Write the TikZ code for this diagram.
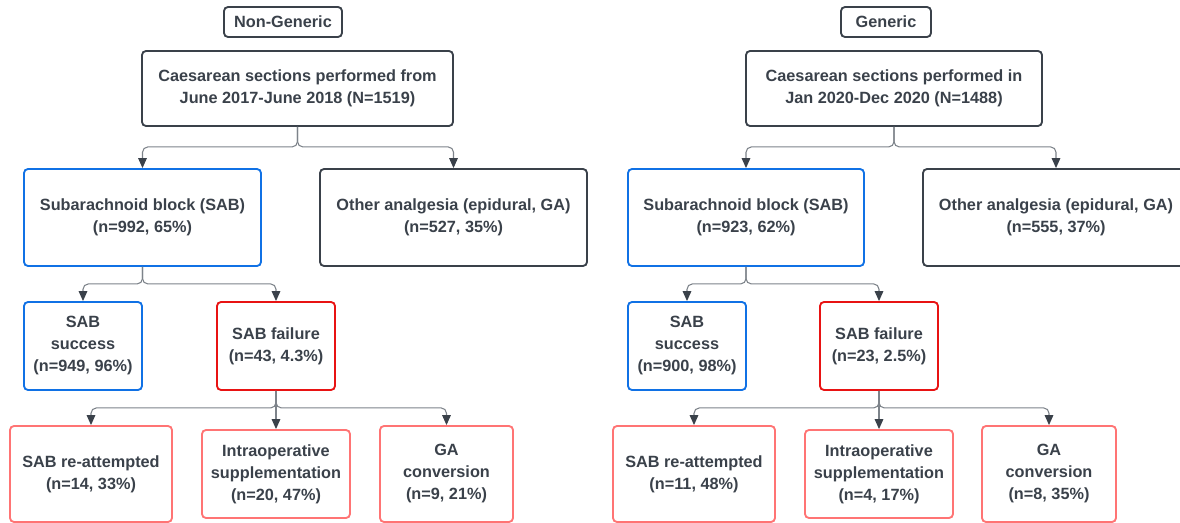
\documentclass[tikz,border=0pt]{standalone}
\usepackage{fontspec}
\setmainfont{Liberation Sans}
\usetikzlibrary{arrows.meta}
\definecolor{dunkel}{HTML}{3A414A}
\definecolor{linie}{HTML}{7D838A}
\definecolor{blau}{HTML}{1071E5}
\definecolor{rot}{HTML}{E81313}
\definecolor{hellrot}{HTML}{FF7474}
\begin{document}
\begin{tikzpicture}
		[x=0.75pt, y=-0.75pt,
		every node/.style={draw=dunkel,line width=1.4pt,rounded corners=3pt,align=center,inner sep=0pt,
			text=dunkel,font=\fontsize{12.2}{16.5}\selectfont\bfseries},
		box/.style 2 args={minimum width=#1*0.75pt,minimum height=#2*0.75pt},
		sab/.style={draw=blau},
		fehl/.style={draw=rot},
		folge/.style={draw=hellrot},
		kante/.style={draw=linie,line width=0.8pt,rounded corners=4pt,
			-{Triangle[length=7.5pt,width=6.5pt,color=dunkel]}},
		]
		\useasboundingbox (0,0) rectangle (1180,523);

		% Non-Generic
		\node[box={118}{30}] (lgruppe) at (283,22) {Non-Generic};
		\node[box={311}{75}] (lalle) at (297.5,88.5) {Caesarean sections performed from\\June 2017-June 2018 (N=1519)};
		\node[sab,box={237}{97}] (lsab) at (142.5,217.5) {Subarachnoid block (SAB)\\(n=992, 65\%)};
		\node[box={267}{97}] (landere) at (453.5,217.5) {Other analgesia (epidural, GA)\\(n=527, 35\%)};
		\node[sab,box={118}{88}] (lerfolg) at (83,346) {SAB\\success\\(n=949, 96\%)};
		\node[fehl,box={118}{88}] (lfehl) at (276,346) {SAB failure\\(n=43, 4.3\%)};
		\node[folge,box={162}{96}] (lneu) at (91,474) {SAB re-attempted\\(n=14, 33\%)};
		\node[folge,box={148}{88}] (lintra) at (276,474) {Intraoperative\\supplementation\\(n=20, 47\%)};
		\node[folge,box={133}{96}] (lga) at (446.5,474) {GA\\conversion\\(n=9, 21\%)};

		\draw[kante] (lalle.south) -- ++(0,20) -| (lsab.north);
		\draw[kante] (lalle.south) -- ++(0,20) -| (landere.north);
		\draw[kante] (lsab.south) -- ++(0,17) -| (lerfolg.north);
		\draw[kante] (lsab.south) -- ++(0,17) -| (lfehl.north);
		\draw[kante] (lfehl.south) -- ++(0,17) -| (lneu.north);
		\draw[kante] (lfehl.south) -- (lintra.north);
		\draw[kante] (lfehl.south) -- ++(0,17) -| (lga.north);

		% Generic
		\node[box={90}{30}] (rgruppe) at (886,22) {Generic};
		\node[box={296}{75}] (ralle) at (894,88.5) {Caesarean sections performed in\\Jan 2020-Dec 2020 (N=1488)};
		\node[sab,box={236}{97}] (rsab) at (746,217.5) {Subarachnoid block (SAB)\\(n=923, 62\%)};
		\node[box={266}{97}] (randere) at (1056,217.5) {Other analgesia (epidural, GA)\\(n=555, 37\%)};
		\node[sab,box={118}{88}] (rerfolg) at (687,346) {SAB\\success\\(n=900, 98\%)};
		\node[fehl,box={118}{88}] (rfehl) at (879,346) {SAB failure\\(n=23, 2.5\%)};
		\node[folge,box={162}{96}] (rneu) at (694,474) {SAB re-attempted\\(n=11, 48\%)};
		\node[folge,box={148}{88}] (rintra) at (879,474) {Intraoperative\\supplementation\\(n=4, 17\%)};
		\node[folge,box={134}{96}] (rga) at (1049,474) {GA\\conversion\\(n=8, 35\%)};

		\draw[kante] (ralle.south) -- ++(0,20) -| (rsab.north);
		\draw[kante] (ralle.south) -- ++(0,20) -| (randere.north);
		\draw[kante] (rsab.south) -- ++(0,17) -| (rerfolg.north);
		\draw[kante] (rsab.south) -- ++(0,17) -| (rfehl.north);
		\draw[kante] (rfehl.south) -- ++(0,17) -| (rneu.north);
		\draw[kante] (rfehl.south) -- (rintra.north);
		\draw[kante] (rfehl.south) -- ++(0,17) -| (rga.north);
	\end{tikzpicture}
\end{document}
